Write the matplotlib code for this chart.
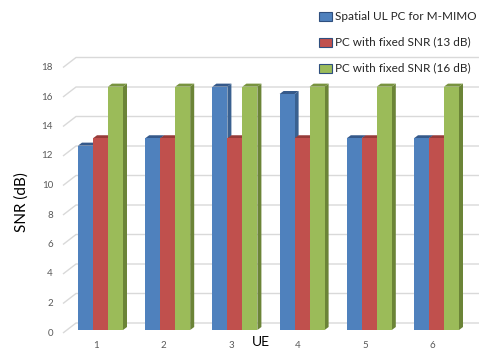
import numpy as np
import matplotlib.pyplot as plt
from matplotlib.patches import Polygon, Rectangle

plt.rcParams['font.family'] = ['Lato', 'DejaVu Sans']

# data
ues = ['1', '2', '3', '4', '5', '6']
spatial_pc = [12.5, 13, 16.5, 16, 13, 13]
fixed_13 = [13, 13, 13, 13, 13, 13]
fixed_16 = [16.5, 16.5, 16.5, 16.5, 16.5, 16.5]
yticks = [0, 2, 4, 6, 8, 10, 12, 14, 16, 18]
labels = ['Spatial UL PC for M-MIMO', 'PC with fixed SNR (13 dB)', 'PC with fixed SNR (16 dB)']

# front / top / side shades for each series (excel-ish 3d columns)
shades = [('#4F81BD', '#35598A', '#3A6190'),
          ('#C0504D', '#973B39', '#8E3A37'),
          ('#9BBB59', '#78933F', '#6B8437')]

W, H = 479, 349
fig = plt.figure(figsize=(W / 100, H / 100), dpi=100)
ax = fig.add_axes([0, 0, 1, 1])

# pixel scale of the chart: group spacing and SNR units
sx, sy = 67.2, 14.75
x0_px, y0_px = 100.5, 330
ax.set_xlim(1 - x0_px / sx, 1 + (W - x0_px) / sx)
ax.set_ylim((y0_px - H) / sy, y0_px / sy)
ax.axis('off')

bw = 15 / sx          # bar width
dx, dy = 4 / sx, 3 / sy  # 3d depth of the bars
back = 7 / sy         # back wall offset above bar plane
front = -3 / sy       # floor front edge
gx0 = 1 + (63 - x0_px) / sx
gx1 = 1 + (76 - x0_px) / sx
gx2 = ax.get_xlim()[1]

# back wall gridlines with a slanted side wall segment
for v in yticks:
    ax.plot([gx0, gx1, gx2], [v + front, v + back, v + back],
            color='#D9D9D9', lw=1, zorder=0, solid_capstyle='butt')
    ax.text(gx0 - 10 / sx, v + front, str(v), ha='right', va='center',
            fontsize=7, color='#595959')

xs = np.arange(1, len(ues) + 1)
series = [spatial_pc, fixed_13, fixed_16]
for i, x in enumerate(xs):
    for k, vals in enumerate(series):
        left = x - 1.5 * bw + k * bw
        right = left + bw
        top = vals[i]
        fc, tc, sc = shades[k]
        z = 2 + k
        ax.add_patch(Polygon([(right, 0), (right + dx, dy), (right + dx, top + dy), (right, top)],
                             closed=True, facecolor=sc, edgecolor='none', zorder=z))
        ax.add_patch(Polygon([(left, top), (right, top), (right + dx, top + dy), (left + dx, top + dy)],
                             closed=True, facecolor=tc, edgecolor='none', zorder=z))
        ax.bar(left, top, width=bw, align='edge', color=fc, edgecolor='none', zorder=z)
    ax.text(x - 4 / sx, -15 / sy, ues[i], ha='center', va='center', fontsize=7, color='#595959')

ax.text(1 + (261 - x0_px) / sx, -12 / sy, 'UE', ha='center', va='center', fontsize=10, color='black')
fig.text(22 / W, 1 - 202 / H, 'SNR (dB)', rotation=90, ha='center', va='center', fontsize=11)

# legend on the right
for j, lab in enumerate(labels):
    yc = [16, 42, 68][j]
    fig.patches.append(Rectangle((319 / W, 1 - (yc + 4.5) / H), 13 / W, 9 / H,
                                 transform=fig.transFigure, facecolor=shades[j][0],
                                 edgecolor='#2F4F7F', lw=0.8))
    fig.text(335 / W, 1 - yc / H, lab, ha='left', va='center', fontsize=8.5, color='#262626')

fig.savefig('out.png', dpi=100)
